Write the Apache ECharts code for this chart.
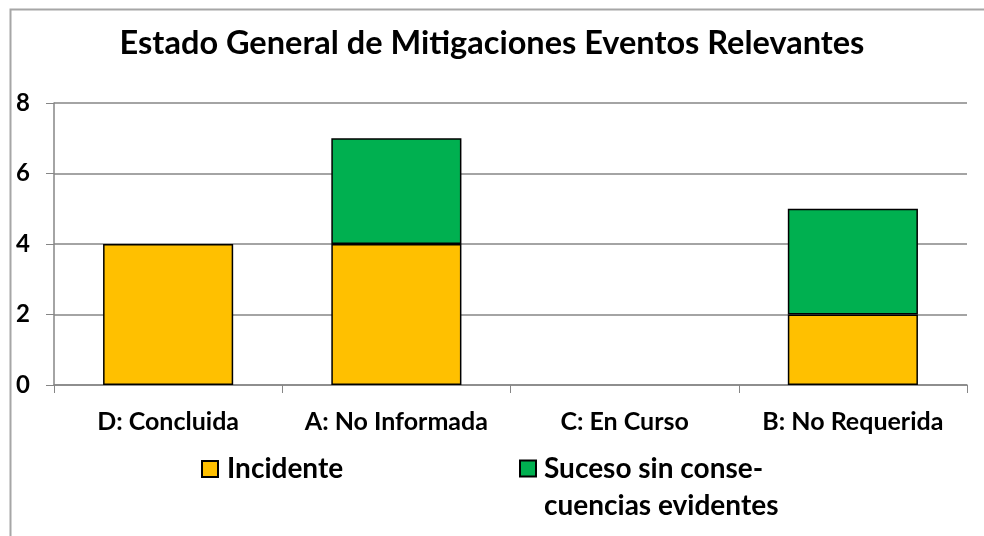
<!DOCTYPE html>
<html>
<head>
<meta charset="utf-8">
<script src="https://cdn.jsdelivr.net/npm/echarts@6/dist/echarts.min.js"></script>
<style>html,body{margin:0;padding:0;background:#fff}#c{width:984px;height:536px}</style>
</head>
<body>
<div id="c"></div>
<script>
var categories = ['D: Concluida', 'A: No Informada', 'C: En Curso', 'B: No Requerida'];
var incidente = [4, 4, 0, 2];
var suceso = [0, 3, 0, 3];
var yTicks = [0, 2, 4, 6, 8];
var seriesNames = ['Incidente', 'Suceso sin conse-\ncuencias evidentes'];
var titleText = 'Estado General de Mitigaciones Eventos Relevantes';

var FONT = 'Lato, "Open Sans", sans-serif';
function nz(arr) { return arr.map(function (v) { return v === 0 ? null : v; }); }
var chart = echarts.init(document.getElementById('c'), null, {renderer: 'canvas'});
chart.setOption({
  animation: false,
  backgroundColor: '#fff',
  graphic: [{
    type: 'rect', left: 8, top: 7, silent: true, z: -1,
    shape: {x: 0, y: 0, width: 1000, height: 560},
    style: {fill: 'none', stroke: '#a6a6a6', lineWidth: 2}
  }],
  title: {
    text: titleText, left: 'center', top: 22,
    textStyle: {fontFamily: FONT, fontWeight: 'bold', fontSize: 32.5, color: '#000'}
  },
  legend: [{
    data: [seriesNames[0]], left: 196, top: 450, icon: 'rect', itemWidth: 16, itemHeight: 16, itemGap: 10,
    textStyle: {fontFamily: FONT, fontWeight: 'bold', fontSize: 28, color: '#000', padding: [0, 0, 0, 4]}
  }, {
    data: [seriesNames[1]], left: 514, top: 408, icon: 'rect', itemWidth: 16, itemHeight: 16,
    formatter: function (name) { return ' \n' + name; },
    textStyle: {fontFamily: FONT, fontWeight: 'bold', fontSize: 28, color: '#000', lineHeight: 37, padding: [0, 0, 0, 3]}
  }],
  grid: {left: 54, right: 17, top: 103, bottom: 151, containLabel: false},
  xAxis: {
    type: 'category', data: categories,
    axisLine: {lineStyle: {color: '#868686', width: 1.5}},
    axisTick: {show: true, length: 8, lineStyle: {color: '#868686'}},
    axisLabel: {fontFamily: FONT, fontWeight: 'bold', fontSize: 25, color: '#000', margin: 24, interval: 0}
  },
  yAxis: {
    type: 'value', min: 0, max: 8, interval: 2,
    axisLine: {show: true, lineStyle: {color: '#868686', width: 1.5}},
    axisTick: {show: true, length: 8, lineStyle: {color: '#868686'}},
    splitLine: {lineStyle: {color: '#868686', width: 1.5}},
    axisLabel: {fontFamily: FONT, fontWeight: 'bold', fontSize: 24, color: '#000', margin: 24,
      formatter: function (v) { return yTicks.indexOf(v) >= 0 ? String(v) : ''; }}
  },
  series: [{
    name: seriesNames[0], type: 'bar', stack: 's', data: nz(incidente), barWidth: '57%',
    itemStyle: {color: '#FFC000', borderColor: '#000', borderWidth: 1.5}
  }, {
    name: seriesNames[1], type: 'bar', stack: 's', data: nz(suceso), barWidth: '57%',
    itemStyle: {color: '#00B050', borderColor: '#000', borderWidth: 1.5}
  }]
});
</script>
</body>
</html>
